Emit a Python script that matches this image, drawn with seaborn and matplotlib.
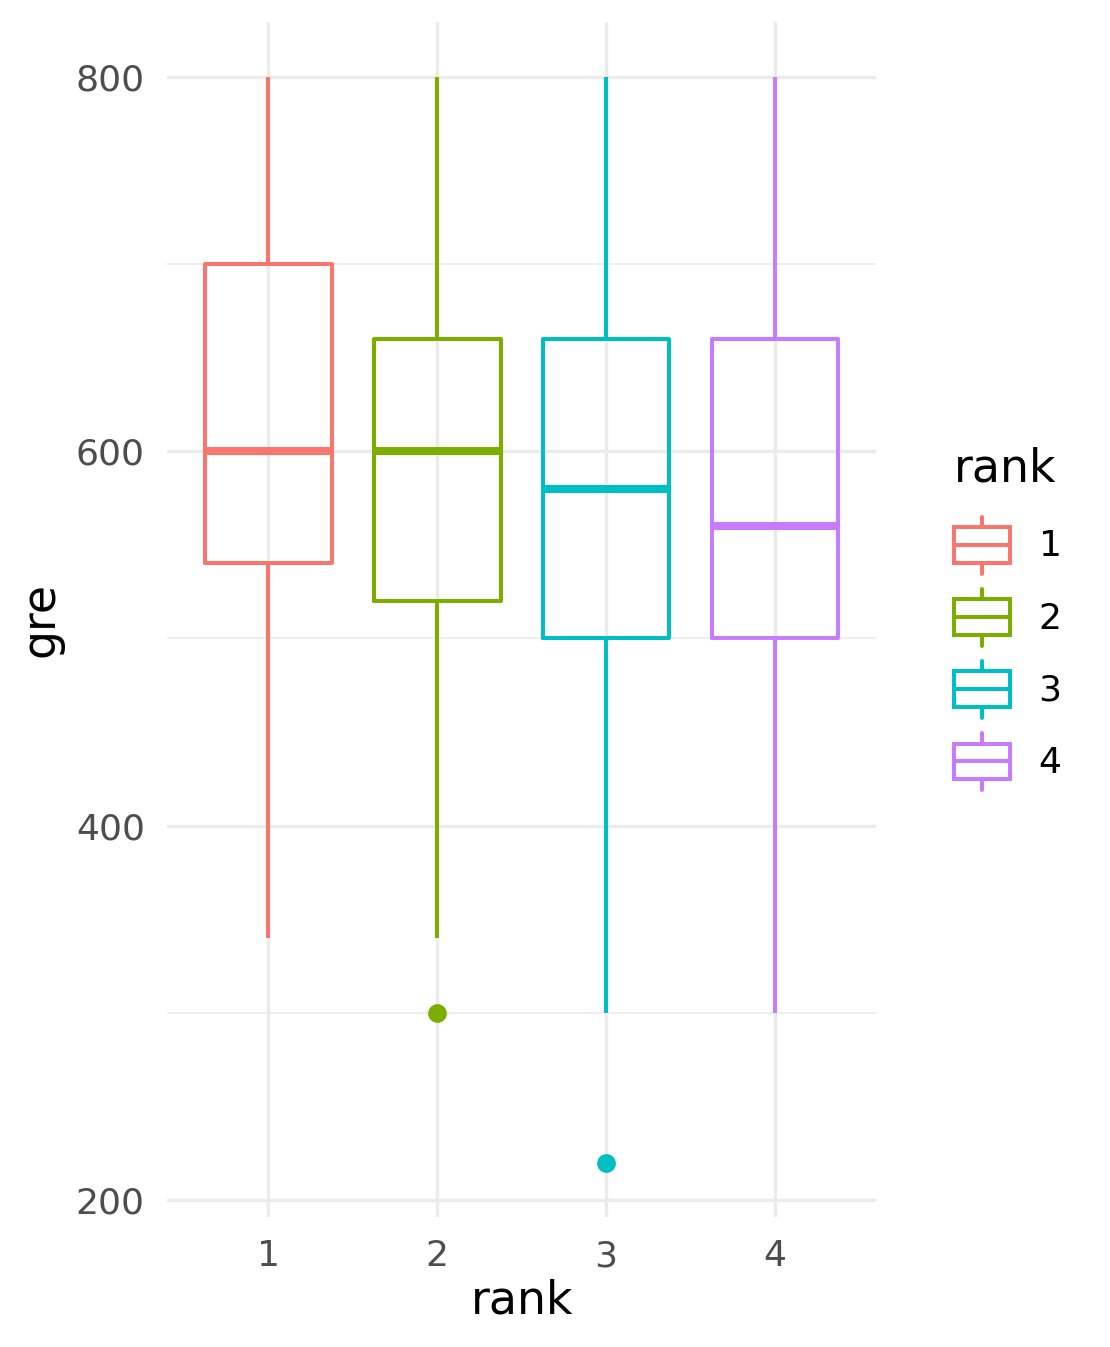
import pandas as pd
import matplotlib.pyplot as plt
import seaborn as sns
from matplotlib.legend_handler import HandlerBase
from matplotlib.lines import Line2D
from matplotlib.patches import Rectangle

# gre scores per rank, chosen so the box statistics match the chart
ranks = ["1", "2", "3", "4"]
gre_rank1 = [340, 540, 600, 700, 800]
gre_rank2 = [300, 340, 520, 520, 600, 660, 660, 800, 800]
gre_rank3 = [220, 300, 500, 500, 580, 660, 660, 800, 800]
gre_rank4 = [300, 500, 560, 660, 800]
colors = ["#F8766D", "#7CAE00", "#00BFC4", "#C77CFF"]

rows = []
for r, vals in zip(ranks, [gre_rank1, gre_rank2, gre_rank3, gre_rank4]):
    for v in vals:
        rows.append({"rank": r, "gre": v})
df = pd.DataFrame(rows)

sns.set_theme(style="white")
plt.rcParams['font.family'] = ['DejaVu Sans']
plt.rcParams['text.color'] = 'black'
plt.rcParams['axes.labelcolor'] = 'black'

fig = plt.figure(figsize=(11.1, 13.47), dpi=100)
ax = fig.add_axes([0.1505, 0.0965, 0.639, 0.887])

# grid like theme_minimal
for y in [300, 500, 700]:
    ax.axhline(y, color="#EBEBEB", lw=1.2, zorder=0)
for y in [200, 400, 600, 800]:
    ax.axhline(y, color="#EBEBEB", lw=2.4, zorder=0)
for x in range(4):
    ax.axvline(x, color="#EBEBEB", lw=2.4, zorder=0)

LW = 2.9
sns.boxplot(data=df, x="rank", y="gre", hue="rank", palette=colors,
            fill=False, width=0.75, dodge=False, linewidth=LW,
            showcaps=False, medianprops=dict(linewidth=LW * 2),
            flierprops=dict(marker="o", markersize=12),
            legend=False, ax=ax)

for line in ax.lines:
    if line.get_marker() == "o":
        c = line.get_markeredgecolor()
        line.set_markerfacecolor(c)
        line.set_markeredgewidth(0)
        line.set_markersize(13.5)

ax.set_xlim(-0.6, 3.6)
ax.set_ylim(191, 829)
ax.set_yticks([200, 400, 600, 800])
for s in ax.spines.values():
    s.set_visible(False)
ax.tick_params(axis="y", length=0, labelsize=26, labelcolor="#4D4D4D", pad=16)
ax.tick_params(axis="x", length=0, labelsize=26, labelcolor="#4D4D4D", pad=16)
ax.set_xlabel("rank", fontsize=33, labelpad=4)
ax.set_ylabel("gre", fontsize=33, labelpad=9)


class BoxHandler(HandlerBase):
    def create_artists(self, legend, orig_handle, xdescent, ydescent,
                       width, height, fontsize, trans):
        c = orig_handle.get_color()
        x0, y0 = -xdescent, -ydescent
        bh = height * 0.63
        by = y0 + (height - bh) / 2
        box = Rectangle((x0, by), width, bh, fill=False, edgecolor=c,
                        lw=LW, transform=trans)
        med = Line2D([x0, x0 + width], [y0 + height / 2] * 2, color=c,
                     lw=LW, transform=trans)
        top = Line2D([x0 + width / 2] * 2, [by + bh, y0 + height], color=c,
                     lw=LW, transform=trans)
        bot = Line2D([x0 + width / 2] * 2, [y0, by], color=c,
                     lw=LW, transform=trans)
        return [box, med, top, bot]


handles = [Line2D([], [], color=c) for c in colors]
leg = fig.legend(handles, ranks, title="rank", loc="center left",
                 bbox_to_anchor=(0.83, 0.541), frameon=False,
                 fontsize=26, title_fontsize=33,
                 handler_map={Line2D: BoxHandler()},
                 handlelength=1.55, handleheight=2.05, labelspacing=0.42,
                 handletextpad=0.8, alignment="left")
# a bit more room between legend title and keys
leg._legend_box.sep = 18

fig.savefig("out.png", dpi=100)
